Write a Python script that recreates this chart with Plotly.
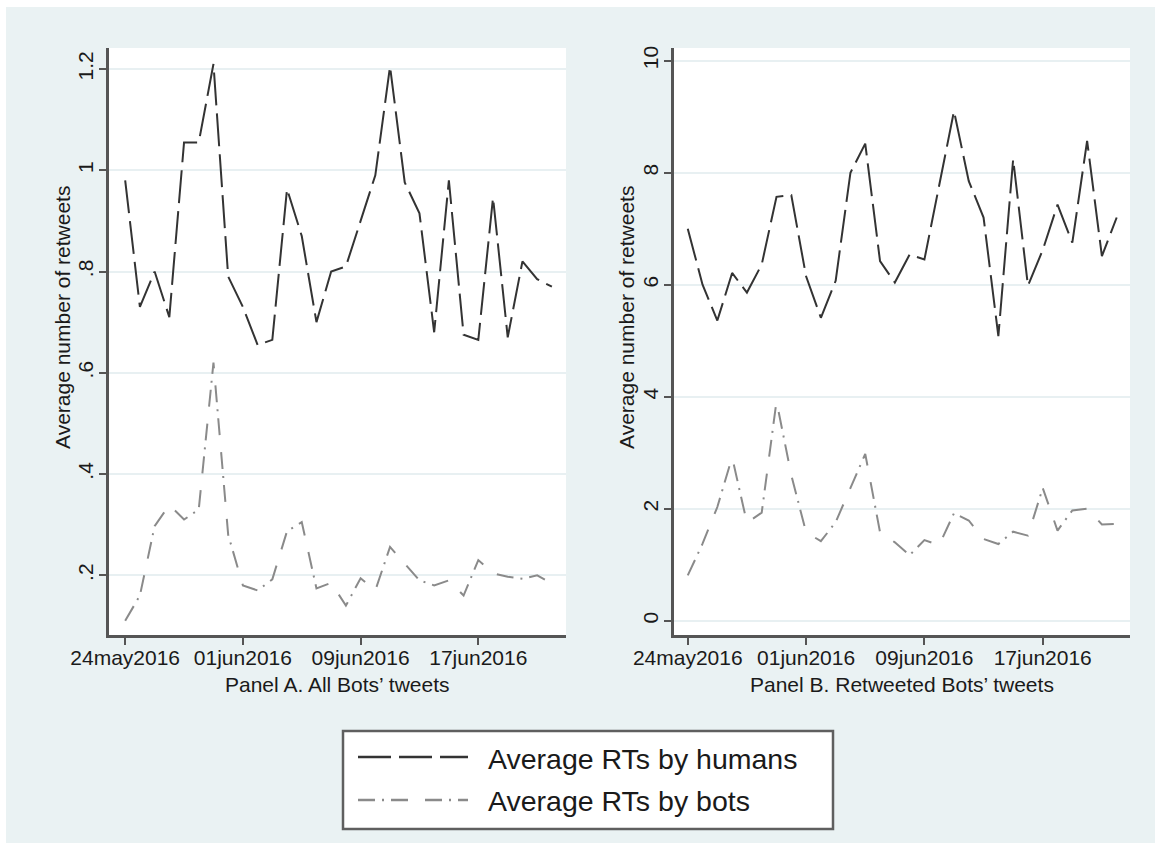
import pandas as pd
import plotly.graph_objects as go

# ---------------- data ----------------
dates = pd.date_range("2016-05-24", "2016-06-22", freq="D")

humans_a = [0.98, 0.73, 0.80, 0.71, 1.055, 1.055, 1.21, 0.79, 0.73, 0.655,
            0.665, 0.963, 0.87, 0.70, 0.80, 0.81, 0.90, 0.99, 1.205, 0.976,
            0.915, 0.68, 0.98, 0.675, 0.665, 0.946, 0.67, 0.82, 0.785, 0.77]
bots_a = [0.11, 0.16, 0.297, 0.339, 0.31, 0.33, 0.62, 0.28, 0.18, 0.17,
          0.192, 0.287, 0.305, 0.174, 0.185, 0.14, 0.194, 0.17, 0.256, 0.224,
          0.19, 0.18, 0.19, 0.16, 0.23, 0.204, 0.197, 0.193, 0.20, 0.184]

humans_b = [7.0, 6.0, 5.36, 6.21, 5.86, 6.36, 7.57, 7.6, 6.15, 5.41,
            6.07, 8.0, 8.52, 6.42, 6.04, 6.54, 6.45, 7.8, 9.1, 7.85,
            7.2, 5.08, 8.24, 5.98, 6.62, 7.43, 6.75, 8.57, 6.51, 7.2]
bots_b = [0.81, 1.375, 2.03, 2.92, 1.75, 1.93, 3.92, 2.6, 1.58, 1.42,
          1.76, 2.36, 2.98, 1.58, 1.4, 1.17, 1.44, 1.35, 1.92, 1.79,
          1.46, 1.37, 1.59, 1.52, 2.37, 1.61, 1.97, 2.0, 1.72, 1.73]

x_tickvals = ["2016-05-24", "2016-06-01", "2016-06-09", "2016-06-17"]
x_ticktext = ["24may2016", "01jun2016", "09jun2016", "17jun2016"]
ya_tickvals = [0.2, 0.4, 0.6, 0.8, 1.0, 1.2]
ya_ticktext = [".2", ".4", ".6", ".8", "1", "1.2"]
yb_tickvals = [0, 2, 4, 6, 8, 10]
yb_ticktext = ["0", "2", "4", "6", "8", "10"]

series_names = ["Average RTs by humans", "Average RTs by bots"]
y_title = "Average number of retweets"
panel_titles = ["Panel A. All Bots\u2019 tweets", "Panel B. Retweeted Bots\u2019 tweets"]

# ---------------- style ----------------
W, H = 1161, 849
FONT = "Liberation Sans, Arial, Helvetica, sans-serif"
TXT = "#1a1a1a"
BG = "#EAF2F3"
GRID = "#E8F0F2"
AX = "#555555"
HUM_COLOR = "#333333"
BOT_COLOR = "#8a8a8a"
HUM_DASH = "33px,8px"
BOT_DASH = "17px,7px,2px,7px,17px,17px"


def px(x):
    return x / W


def py(y):
    return 1 - y / H


fig = go.Figure()

fig.add_trace(go.Scatter(x=dates, y=humans_a, mode="lines", xaxis="x", yaxis="y",
                         line=dict(color=HUM_COLOR, width=2, dash=HUM_DASH),
                         name=series_names[0], showlegend=False))
fig.add_trace(go.Scatter(x=dates, y=bots_a, mode="lines", xaxis="x", yaxis="y",
                         line=dict(color=BOT_COLOR, width=2, dash=BOT_DASH),
                         name=series_names[1], showlegend=False))
fig.add_trace(go.Scatter(x=dates, y=humans_b, mode="lines", xaxis="x2", yaxis="y2",
                         line=dict(color=HUM_COLOR, width=2, dash=HUM_DASH),
                         name=series_names[0], showlegend=False))
fig.add_trace(go.Scatter(x=dates, y=bots_b, mode="lines", xaxis="x2", yaxis="y2",
                         line=dict(color=BOT_COLOR, width=2, dash=BOT_DASH),
                         name=series_names[1], showlegend=False))

day0 = pd.Timestamp("2016-05-24")
rng_a = [day0 + pd.Timedelta(days=-1.1), day0 + pd.Timedelta(days=29.96)]
rng_b = [day0 + pd.Timedelta(days=-0.93), day0 + pd.Timedelta(days=29.9)]

common_x = dict(type="date", tickvals=x_tickvals, ticktext=x_ticktext,
                ticks="outside", ticklen=7, tickwidth=2, tickcolor=AX,
                showline=True, linecolor=AX, linewidth=2.5, showgrid=False,
                zeroline=False, tickfont=dict(family=FONT, size=21, color=TXT),
                ticklabelstandoff=-5, automargin=False)
common_y = dict(ticks="outside", ticklen=7, tickwidth=2, tickcolor=AX,
                showline=True, linecolor=AX, linewidth=2.5, showgrid=True,
                gridcolor=GRID, gridwidth=2, zeroline=False, tickangle=-90,
                tickfont=dict(family=FONT, size=21, color=TXT),
                ticklabelstandoff=-2, automargin=False)

ydom = [py(635), py(48)]

fig.update_layout(
    width=W, height=H,
    margin=dict(l=0, r=0, t=0, b=0, autoexpand=False),
    paper_bgcolor=BG, plot_bgcolor="white",
    font=dict(family=FONT, color=TXT),
    showlegend=False,
    xaxis=dict(domain=[px(109), px(566)], range=rng_a, anchor="y", **common_x),
    yaxis=dict(domain=ydom, range=[0.082, 1.2415], anchor="x",
               tickvals=ya_tickvals, ticktext=ya_ticktext, **common_y),
    xaxis2=dict(domain=[px(674), px(1130)], range=rng_b, anchor="y2", **common_x),
    yaxis2=dict(domain=ydom, range=[-0.255, 10.227], anchor="x2",
                tickvals=yb_tickvals, ticktext=yb_ticktext, **common_y),
)

shapes = []
# white outer frame
for (x0, y0, x1, y1) in [(0, 0, W, 7), (0, 843, W, H), (0, 0, 6, H), (1155, 0, W, H)]:
    shapes.append(dict(type="rect", xref="paper", yref="paper",
                       x0=px(x0), x1=px(x1), y0=py(y1), y1=py(y0),
                       fillcolor="white", line=dict(width=0), layer="below"))
# legend box
shapes.append(dict(type="rect", xref="paper", yref="paper",
                   x0=px(343), x1=px(833), y0=py(829), y1=py(731),
                   fillcolor="white", line=dict(color="#5f5f5f", width=2.5)))
shapes.append(dict(type="line", xref="paper", yref="paper",
                   x0=px(358), x1=px(468), y0=py(757), y1=py(757),
                   line=dict(color=HUM_COLOR, width=2.5, dash=HUM_DASH)))
shapes.append(dict(type="line", xref="paper", yref="paper",
                   x0=px(358), x1=px(468), y0=py(800), y1=py(800),
                   line=dict(color=BOT_COLOR, width=2.5, dash=BOT_DASH)))
fig.update_layout(shapes=shapes)

annotations = [
    dict(text=series_names[0], x=px(486), y=py(759), xref="paper", yref="paper",
         xanchor="left", yanchor="middle", showarrow=False,
         font=dict(family=FONT, size=28.5, color=TXT)),
    dict(text=series_names[1], x=px(486), y=py(801), xref="paper", yref="paper",
         xanchor="left", yanchor="middle", showarrow=False,
         font=dict(family=FONT, size=28.5, color=TXT)),
    dict(text=panel_titles[0], x=px(337), y=py(684), xref="paper", yref="paper",
         xanchor="center", yanchor="middle", showarrow=False,
         font=dict(family=FONT, size=21, color=TXT)),
    dict(text=panel_titles[1], x=px(902), y=py(684), xref="paper", yref="paper",
         xanchor="center", yanchor="middle", showarrow=False,
         font=dict(family=FONT, size=21, color=TXT)),
    dict(text=y_title, x=px(62), y=py(318), xref="paper", yref="paper",
         xanchor="center", yanchor="middle", showarrow=False, textangle=-90,
         font=dict(family=FONT, size=21, color=TXT)),
    dict(text=y_title, x=px(626), y=py(318), xref="paper", yref="paper",
         xanchor="center", yanchor="middle", showarrow=False, textangle=-90,
         font=dict(family=FONT, size=21, color=TXT)),
]
fig.update_layout(annotations=annotations)

fig.write_html("out.html")
